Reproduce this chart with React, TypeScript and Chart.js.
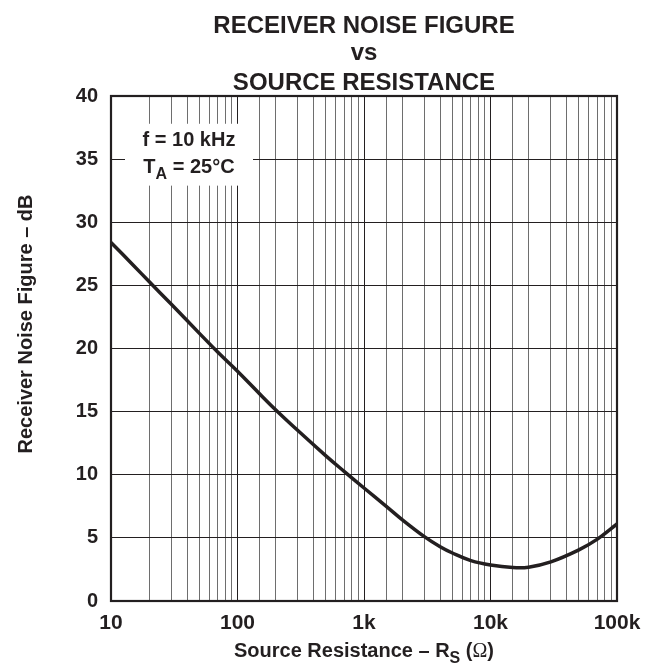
import React, { useEffect, useRef } from 'react';
import { Chart, registerables } from 'chart.js';

Chart.register(...registerables);

// ---- data ----
const resistance = [10, 15, 20, 30, 50, 70, 100, 150, 200, 300, 500, 700, 1000, 1500, 2000, 3000, 4000, 5000, 7000, 10000, 15000, 20000, 30000, 50000, 70000, 100000];
const noiseFigure = [28.4, 26.6, 25.3, 23.5, 21.2, 19.7, 18.2, 16.4, 15.15, 13.5, 11.5, 10.25, 8.95, 7.5, 6.45, 5.1, 4.3, 3.8, 3.2, 2.85, 2.65, 2.68, 3.1, 4.05, 4.9, 6.1];
const xTickValues = [10, 100, 1000, 10000, 100000];
const xTickLabels = ['10', '100', '1k', '10k', '100k'];
const yMin = 0;
const yMax = 40;
const yStep = 5;
const titleLines = ['RECEIVER NOISE FIGURE', 'vs', 'SOURCE RESISTANCE'];
const yAxisTitle = 'Receiver Noise Figure – dB';
const xAxisTitleMain = 'Source Resistance – R';
const xAxisTitleSub = 'S';
const xAxisTitleOmega = 'Ω';
const condLine1 = 'f = 10 kHz';
const condLine2Main = 'T';
const condLine2Sub = 'A';
const condLine2End = ' = 25°C';

const INK = '#231f20';
const FONT = '"Liberation Sans", Arial, Helvetica, sans-serif';

const overlay = {
  id: 'overlay',
  beforeDatasetsDraw(chart: any) {
    const ctx = chart.ctx;
    const x = chart.scales.x;
    const y = chart.scales.y;
    ctx.save();
    const bx0 = x.left + 14;
    const bx1 = x.left + 142;
    const by0 = y.getPixelForValue(37.8);
    const by1 = y.getPixelForValue(32.9);
    ctx.fillStyle = '#ffffff';
    ctx.fillRect(bx0, by0, bx1 - bx0, by1 - by0);
    ctx.fillStyle = INK;
    ctx.textBaseline = 'alphabetic';
    ctx.font = `bold 20px ${FONT}`;
    ctx.textAlign = 'center';
    const cx = (bx0 + bx1) / 2;
    ctx.fillText(condLine1, cx, by0 + 22);
    const fMain = `bold 20px ${FONT}`;
    const fSub = `bold 16px ${FONT}`;
    ctx.font = fMain;
    const w1 = ctx.measureText(condLine2Main).width;
    const w3 = ctx.measureText(condLine2End).width;
    ctx.font = fSub;
    const w2 = ctx.measureText(condLine2Sub).width;
    let sx = cx - (w1 + w2 + w3) / 2;
    const base = by0 + 49;
    ctx.textAlign = 'left';
    ctx.font = fMain;
    ctx.fillText(condLine2Main, sx, base);
    sx += w1;
    ctx.font = fSub;
    ctx.fillText(condLine2Sub, sx, base + 6);
    sx += w2;
    ctx.font = fMain;
    ctx.fillText(condLine2End, sx, base);
    ctx.restore();
  },
  afterDraw(chart: any) {
    const ctx = chart.ctx;
    const a = chart.chartArea;
    ctx.save();
    ctx.strokeStyle = INK;
    ctx.lineWidth = 2.2;
    ctx.strokeRect(a.left, a.top, a.right - a.left, a.bottom - a.top);
    ctx.fillStyle = INK;
    ctx.textAlign = 'center';
    ctx.textBaseline = 'alphabetic';
    ctx.font = `bold 24px ${FONT}`;
    const tcx = (a.left + a.right) / 2;
    ctx.fillText(titleLines[0], tcx, 32.5);
    ctx.fillText(titleLines[1], tcx, 60);
    ctx.fillText(titleLines[2], tcx, 89.5);
    ctx.save();
    ctx.translate(32, 324);
    ctx.rotate(-Math.PI / 2);
    ctx.font = `bold 20px ${FONT}`;
    ctx.fillText(yAxisTitle, 0, 0);
    ctx.restore();
    const fMain = `bold 20px ${FONT}`;
    const fSub = `bold 16px ${FONT}`;
    const fOmega = `20px "Liberation Serif", "Times New Roman", serif`;
    ctx.font = fMain;
    const w1 = ctx.measureText(xAxisTitleMain).width;
    const wOpen = ctx.measureText(' (').width;
    const wClose = ctx.measureText(')').width;
    ctx.font = fSub;
    const w2 = ctx.measureText(xAxisTitleSub).width;
    ctx.font = fOmega;
    const wO = ctx.measureText(xAxisTitleOmega).width;
    const total = w1 + w2 + wOpen + wO + wClose;
    let sx = tcx - total / 2;
    const base = 657;
    ctx.textAlign = 'left';
    ctx.font = fMain;
    ctx.fillText(xAxisTitleMain, sx, base);
    sx += w1;
    ctx.font = fSub;
    ctx.fillText(xAxisTitleSub, sx, base + 6);
    sx += w2;
    ctx.font = fMain;
    ctx.fillText(' (', sx, base);
    sx += wOpen;
    ctx.font = fOmega;
    ctx.fillText(xAxisTitleOmega, sx, base);
    sx += wO;
    ctx.font = fMain;
    ctx.fillText(')', sx, base);
    ctx.restore();
  },
};

export default function App() {
  const ref = useRef<HTMLCanvasElement | null>(null);
  useEffect(() => {
    const canvas = ref.current;
    if (!canvas) return;
    const chart = new Chart(canvas, {
      type: 'line',
      data: {
        datasets: [
          {
            data: resistance.map((r, i) => ({ x: r, y: noiseFigure[i] })),
            borderColor: INK,
            borderWidth: 3.5,
            pointRadius: 0,
            fill: false,
            tension: 0.4,
          },
        ],
      },
      options: {
        responsive: false,
        animation: false,
        layout: { padding: { top: 96, right: 30, left: 0, bottom: 0 } },
        plugins: {
          legend: { display: false },
          title: { display: false },
          tooltip: { enabled: false },
        },
        scales: {
          x: {
            type: 'logarithmic',
            min: xTickValues[0],
            max: xTickValues[xTickValues.length - 1],
            afterFit: (s: any) => {
              s.height = 70;
              s.paddingLeft = 0;
              s.paddingRight = 0;
            },
            grid: {
              drawTicks: false,
              lineWidth: 1,
              color: (c: any) =>
                c.tick && xTickValues.includes(Math.round(c.tick.value)) ? INK : '#6e6e6e',
            },
            border: { display: false },
            ticks: {
              autoSkip: false,
              maxRotation: 0,
              padding: 10,
              color: INK,
              font: { family: FONT, size: 21, weight: 'bold' },
              callback: (v: any) => {
                const idx = xTickValues.indexOf(Math.round(Number(v)));
                return idx >= 0 ? xTickLabels[idx] : '';
              },
            },
          },
          y: {
            type: 'linear',
            min: yMin,
            max: yMax,
            afterFit: (s: any) => {
              s.width = 111;
              s.paddingTop = 0;
              s.paddingBottom = 0;
            },
            grid: { drawTicks: false, color: INK, lineWidth: 1 },
            border: { display: false },
            ticks: {
              stepSize: yStep,
              padding: 13,
              color: INK,
              font: { family: FONT, size: 20, weight: 'bold' },
            },
          },
        },
      },
      plugins: [overlay],
    } as any);
    return () => chart.destroy();
  }, []);
  return (
    <div style={{ position: 'fixed', left: 0, top: 0, width: 647, height: 671, background: '#fff' }}>
      <canvas ref={ref} width={647} height={671} style={{ display: 'block' }} />
    </div>
  );
}
